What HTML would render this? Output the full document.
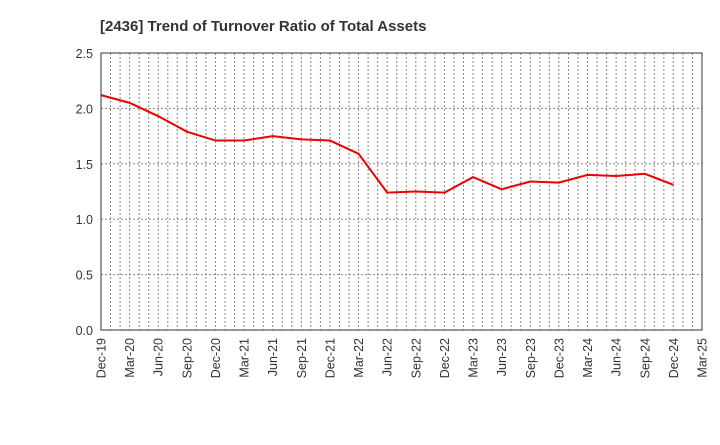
<!DOCTYPE html>
<html><head><meta charset="utf-8"><style>body{margin:0;background:#fff}svg{font-family:"Liberation Sans",sans-serif}</style></head>
<body>
<svg id="c" width="720" height="440">
<text x="100" y="31" font-size="15" font-weight="bold" fill="#333">[2436]  Trend of Turnover Ratio of Total Assets</text>
<g id="grid"></g><g id="axes"></g><g id="series"></g>
</svg>
<script>
const categories=["Dec-19","Mar-20","Jun-20","Sep-20","Dec-20","Mar-21","Jun-21","Sep-21","Dec-21","Mar-22","Jun-22","Sep-22","Dec-22","Mar-23","Jun-23","Sep-23","Dec-23","Mar-24","Jun-24","Sep-24","Dec-24","Mar-25"];
const values=[2.12,2.05,1.93,1.79,1.71,1.71,1.75,1.72,1.71,1.59,1.24,1.25,1.24,1.38,1.27,1.34,1.33,1.40,1.39,1.41,1.31];
const yTicks=[0,0.5,1,1.5,2,2.5];
const yTickLabels=["0.0","0.5","1.0","1.5","2.0","2.5"];
const L=101,R=702,T=53,B=330,NS="http://www.w3.org/2000/svg";
const x=i=>L+(R-L)*i/(categories.length-1);
const y=v=>B-(B-T)*v/2.5;
function mk(tag,attrs,parent){const e=document.createElementNS(NS,tag);for(const k in attrs)e.setAttribute(k,attrs[k]);parent.appendChild(e);return e;}
const grid=document.getElementById('grid'),axes=document.getElementById('axes'),series=document.getElementById('series');
const months=(categories.length-1)*3;
for(let m=1;m<months;m++){const xx=L+(R-L)*m/months;const g=mk('line',{x1:xx,x2:xx,y1:T,y2:B,stroke:'#888','stroke-dasharray':'2,2','stroke-width':1},grid);

}
yTicks.forEach((v,i)=>{if(v>0&&v<2.5){const g=mk('line',{x1:L,x2:R,y1:y(v),y2:y(v),stroke:'#888','stroke-dasharray':'2,2'},grid);

}
const t=mk('text',{x:L-8,y:y(v)+5,'text-anchor':'end','font-size':12.5,fill:'#333'},axes);t.textContent=yTickLabels[i];

});
const fr=mk('rect',{x:L,y:T,width:R-L,height:B-T,fill:'none',stroke:'#333','stroke-width':1},axes);


categories.forEach((c,i)=>{const t=mk('text',{transform:`translate(${x(i)+4.5},${B+8}) rotate(-90)`,'text-anchor':'end','font-size':12.5,fill:'#333'},axes);t.textContent=c;

});
const p=mk('polyline',{points:values.map((v,i)=>x(i)+','+y(v)).join(' '),fill:'none',stroke:'#e00','stroke-width':2},series);


</script>
</body></html>
